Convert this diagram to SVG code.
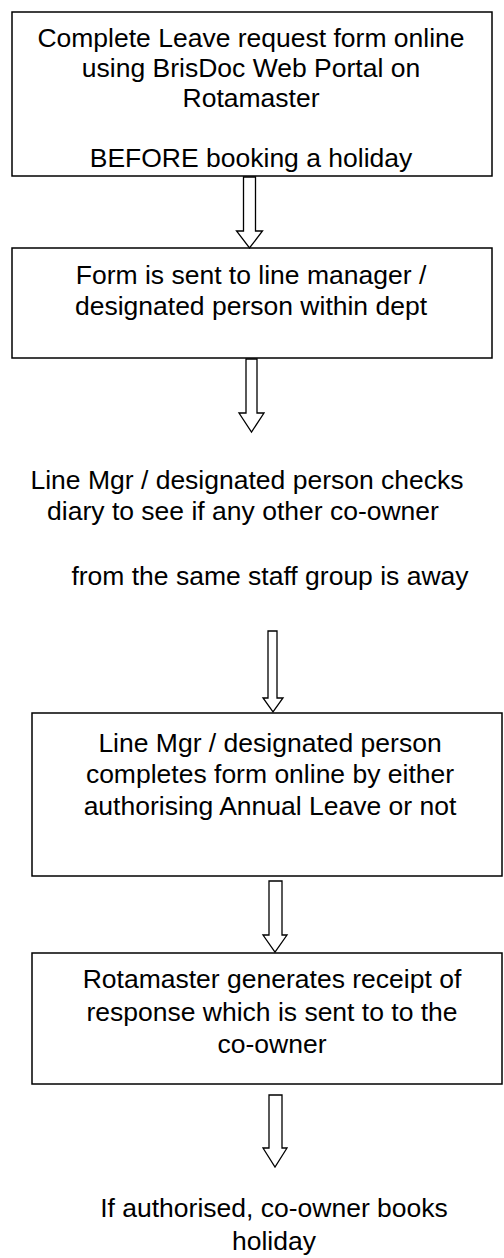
<svg xmlns="http://www.w3.org/2000/svg" width="504" height="1258" viewBox="0 0 504 1258">
<style>
.box{fill:#fff;stroke:#000;stroke-width:1.5}
.arr{fill:#fff;stroke:#000;stroke-width:1.3;stroke-linejoin:miter}
text{font-family:"Liberation Sans",Arial,sans-serif;font-size:26.5px;fill:#000;text-anchor:middle}
</style>
<rect width="504" height="1258" fill="#fff"/>
<g id="n1">
<rect class="box" x="12" y="12" width="480" height="164"/>
<text x="251" y="47">Complete Leave request form online</text>
<text x="251" y="77">using BrisDoc Web Portal on</text>
<text x="251" y="107">Rotamaster</text>
<text x="251" y="167">BEFORE booking a holiday</text>
</g>
<g id="n2">
<rect class="box" x="12" y="248" width="480" height="110"/>
<text x="251" y="284">Form is sent to line manager /</text>
<text x="251" y="315">designated person within dept</text>
</g>
<g id="n3">
<text x="247" y="489">Line Mgr / designated person checks</text>
<text x="243" y="520">diary to see if any other co-owner</text>
<text x="270" y="585">from the same staff group is away</text>
</g>
<g id="n4">
<rect class="box" x="32" y="713" width="470" height="163"/>
<text x="270" y="752">Line Mgr / designated person</text>
<text x="270" y="783">completes form online by either</text>
<text x="270" y="815">authorising Annual Leave or not</text>
</g>
<g id="n5">
<rect class="box" x="32" y="953" width="470" height="131"/>
<text x="272" y="988">Rotamaster generates receipt of</text>
<text x="272" y="1021">response which is sent to to the</text>
<text x="272" y="1053">co-owner</text>
</g>
<g id="n6">
<text x="274" y="1217">If authorised, co-owner books</text>
<text x="274" y="1250">holiday</text>
</g>
<g id="connectors">
<path class="arr" d="M243.5 177 H255.5 V231 H262.5 L249.5 248 L236.5 231 H243.5 Z"/>
<path class="arr" d="M246 359 H257 V413 H264 L251.5 432 L239 413 H246 Z"/>
<path class="arr" d="M268 631 H277 V698 H283 L273 712 L263 698 H268 Z"/>
<path class="arr" d="M269 881 H282 V935 H287 L275 952 L263 935 H269 Z"/>
<path class="arr" d="M269 1095 H282 V1148 H287 L275 1167 L263 1148 H269 Z"/>
</g>
</svg>
